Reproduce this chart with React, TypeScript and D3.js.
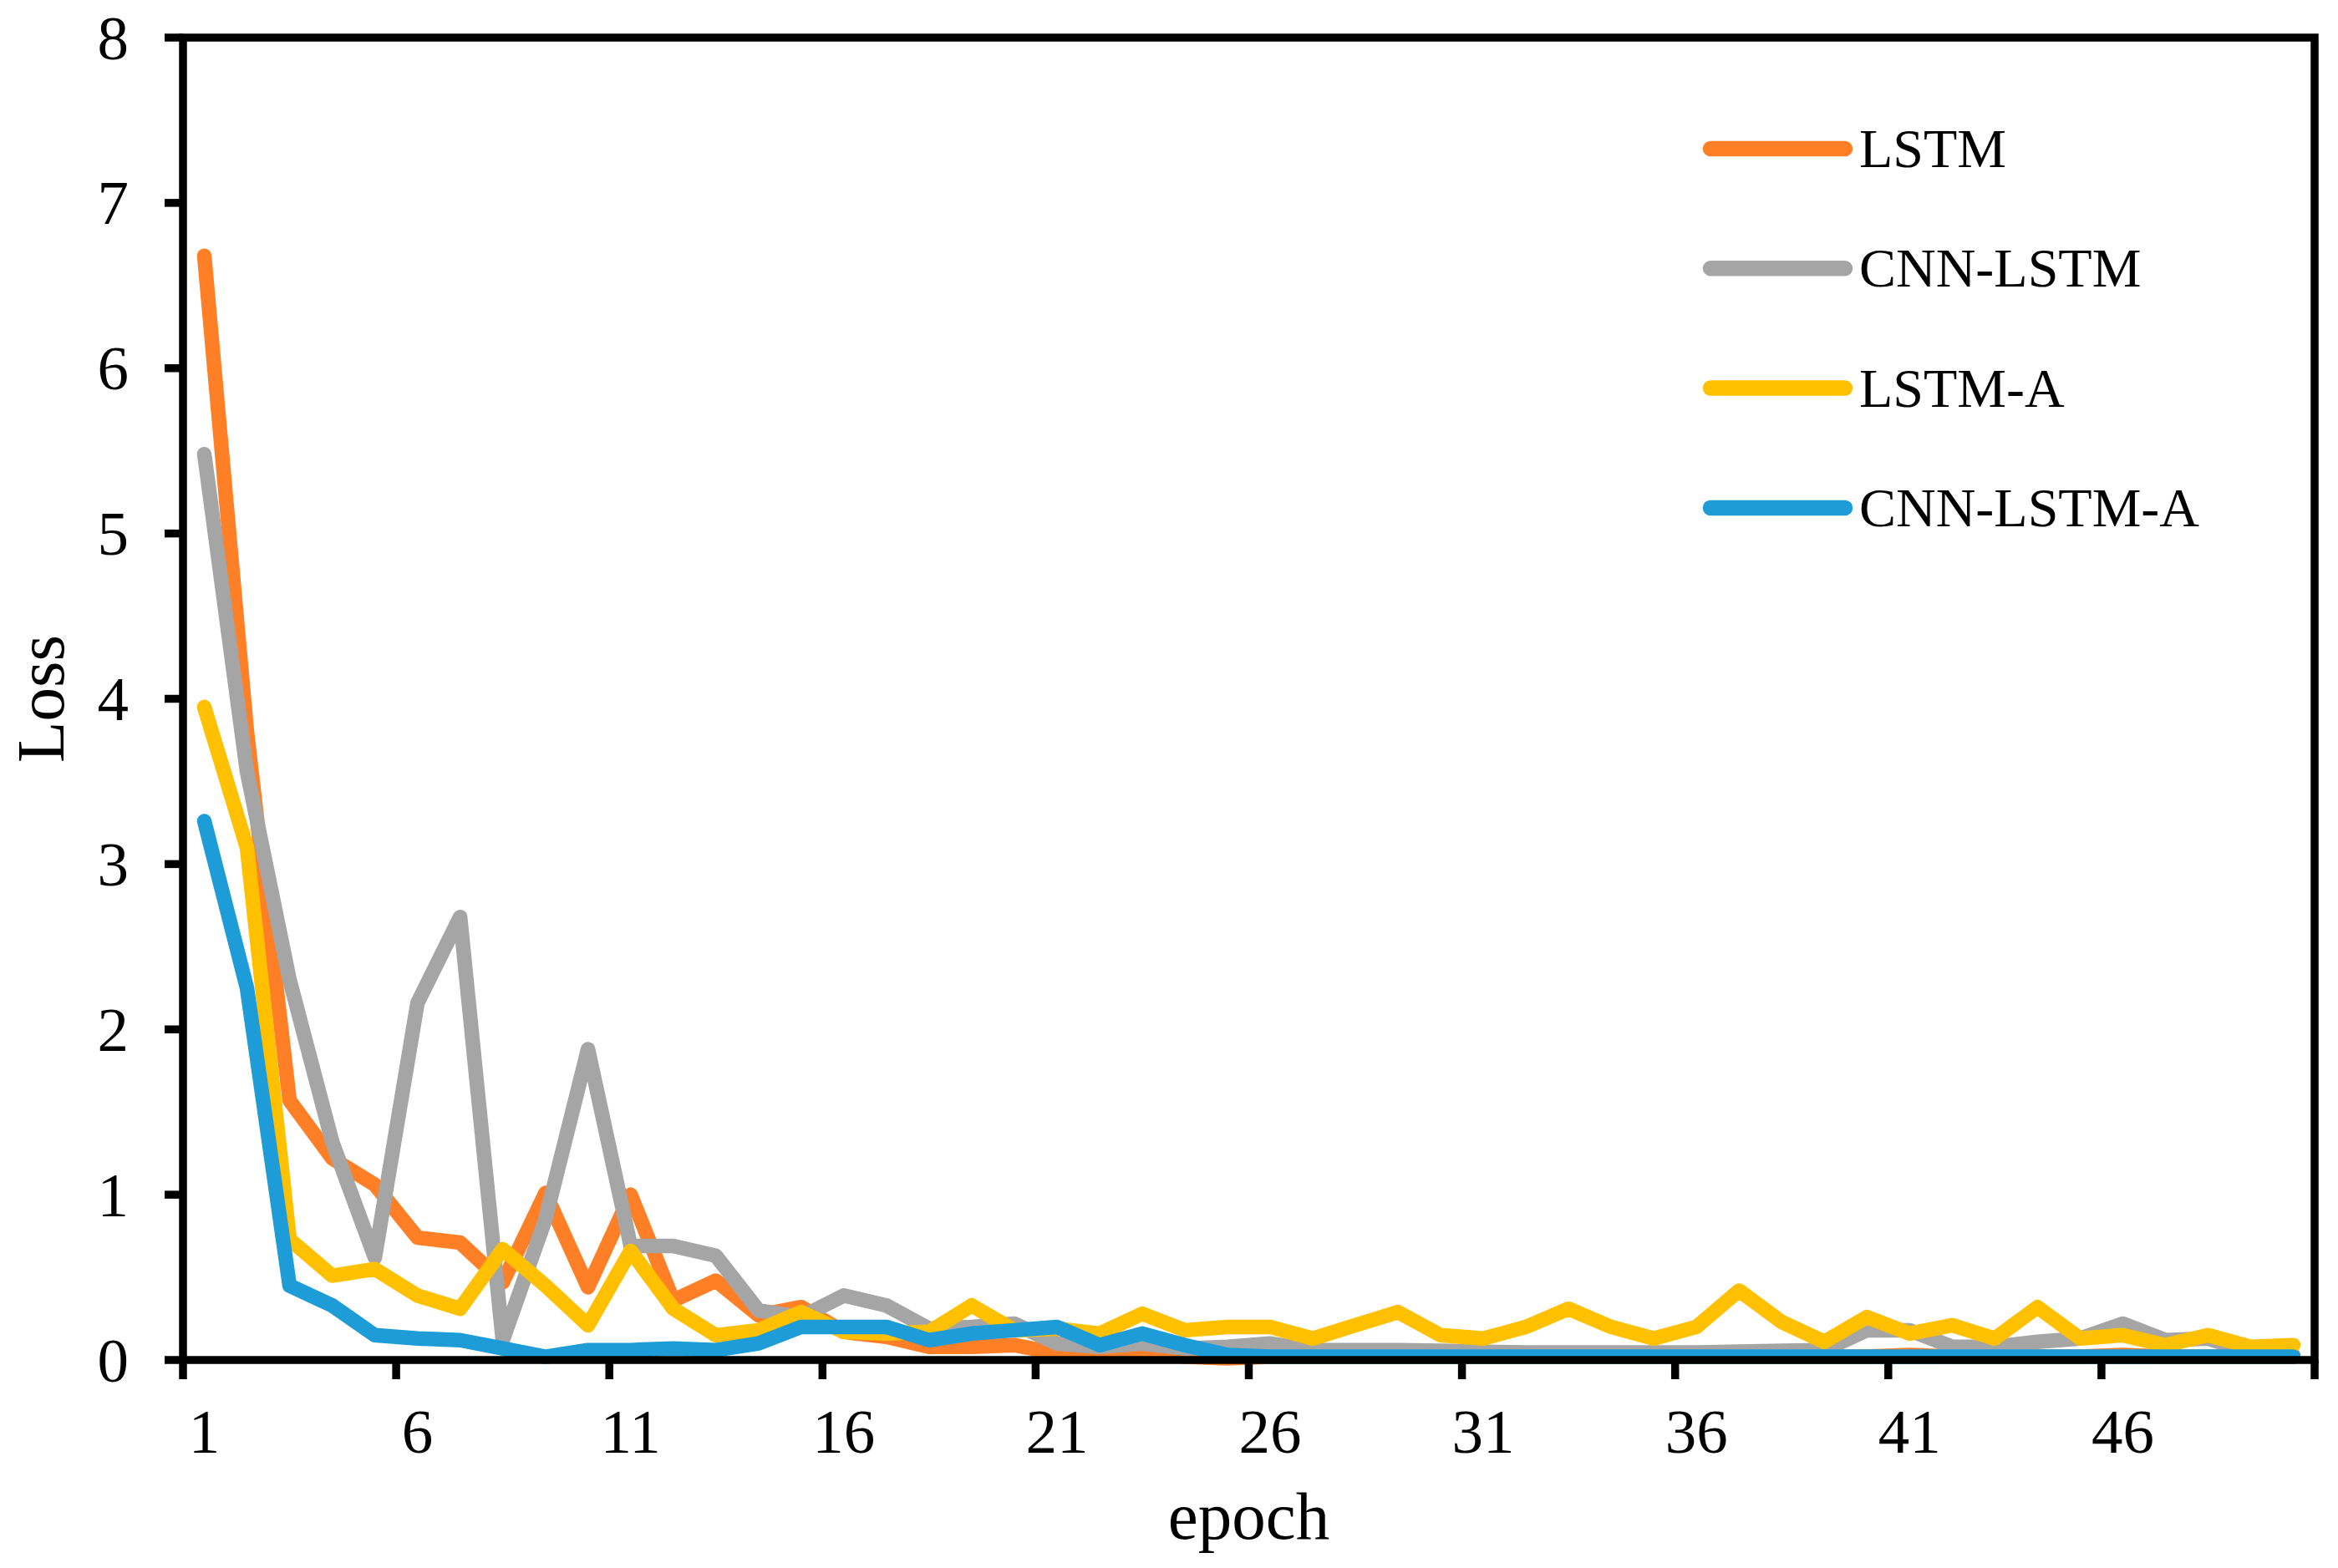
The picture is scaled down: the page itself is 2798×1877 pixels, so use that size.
import * as d3 from "d3";

const epochs = d3.range(1, 51);

const lstm = [
  6.68, 3.8, 1.57, 1.22, 1.06, 0.74, 0.71, 0.47, 1.01, 0.44,
  1.0, 0.36, 0.48, 0.27, 0.32, 0.17, 0.14, 0.08, 0.08, 0.09,
  0.04, 0.03, 0.06, 0.02, 0.01, 0.02, 0.02, 0.02, 0.02, 0.02,
  0.02, 0.02, 0.02, 0.02, 0.02, 0.02, 0.02, 0.02, 0.02, 0.02,
  0.03, 0.02, 0.02, 0.02, 0.02, 0.03, 0.02, 0.02, 0.02, 0.02,
];
const cnnLstm = [
  5.48, 3.56, 2.3, 1.32, 0.62, 2.16, 2.68, 0.12, 0.85, 1.88,
  0.69, 0.69, 0.63, 0.3, 0.26, 0.39, 0.33, 0.19, 0.2, 0.22,
  0.1, 0.08, 0.1, 0.07, 0.08, 0.1, 0.06, 0.06, 0.06, 0.055,
  0.05, 0.045, 0.045, 0.045, 0.045, 0.045, 0.05, 0.055, 0.06, 0.18,
  0.18, 0.08, 0.08, 0.11, 0.13, 0.22, 0.12, 0.13, 0.05, 0.03,
];
const lstmA = [
  3.95, 3.1, 0.73, 0.51, 0.55, 0.39, 0.31, 0.67, 0.45, 0.21,
  0.66, 0.31, 0.15, 0.18, 0.29, 0.17, 0.16, 0.17, 0.33, 0.18,
  0.19, 0.16, 0.28, 0.18, 0.2, 0.2, 0.13, 0.21, 0.29, 0.15,
  0.13, 0.2, 0.31, 0.2, 0.13, 0.2, 0.42, 0.23, 0.11, 0.26,
  0.16, 0.21, 0.13, 0.32, 0.13, 0.15, 0.09, 0.15, 0.08, 0.09,
];
const cnnLstmA = [
  3.26, 2.25, 0.45, 0.33, 0.15, 0.13, 0.12, 0.07, 0.02, 0.06,
  0.06, 0.07, 0.06, 0.1, 0.2, 0.2, 0.2, 0.12, 0.16, 0.18,
  0.2, 0.09, 0.16, 0.09, 0.03, 0.02, 0.02, 0.02, 0.02, 0.02,
  0.02, 0.02, 0.02, 0.02, 0.02, 0.02, 0.02, 0.02, 0.02, 0.02,
  0.02, 0.02, 0.02, 0.02, 0.02, 0.02, 0.02, 0.02, 0.02, 0.02,
];

const seriesNames = ["LSTM", "CNN-LSTM", "LSTM-A", "CNN-LSTM-A"];
const seriesValues = [lstm, cnnLstm, lstmA, cnnLstmA];
const seriesColors = ["#FF7F27", "#A5A5A5", "#FFC000", "#1E9CD8"];

const yTicks = [0, 1, 2, 3, 4, 5, 6, 7, 8];
const xTickLabels = [1, 6, 11, 16, 21, 26, 31, 36, 41, 46];

const W = 2798, H = 1877;
const font = "'Liberation Serif', 'Times New Roman', serif";

export default function App() {
  const left = 219, right = 2770, top = 45, bottom = 1628;

  const x = d3.scaleBand<number>().domain(epochs).range([left, right]);
  const y = d3.scaleLinear().domain([0, 8]).range([bottom, top]);
  const cx = (e: number) => (x(e) as number) + x.bandwidth() / 2;

  const line = d3
    .line<number>()
    .x((_, i) => cx(epochs[i]))
    .y((d) => y(d));

  // tick boundaries every 5 categories
  const xBoundaries = d3.range(0, 51, 5).map((k) => left + k * x.bandwidth());

  const axisW = 9.5;
  const lineW = 17.5;

  return (
    <svg
      width={W}
      height={H}
      style={{ position: "absolute", left: 0, top: 0, background: "#fff" }}
    >
      <rect x={0} y={0} width={W} height={H} fill="#fff" />

      {/* data lines */}
      {seriesValues.map((vals, s) => (
        <path
          key={seriesNames[s]}
          d={line(vals) || ""}
          fill="none"
          stroke={seriesColors[s]}
          strokeWidth={lineW}
          strokeLinejoin="round"
          strokeLinecap="round"
        />
      ))}

      {/* frame */}
      <rect
        x={left}
        y={top}
        width={right - left}
        height={bottom - top}
        fill="none"
        stroke="#000"
        strokeWidth={axisW}
      />

      {/* y ticks */}
      {yTicks.map((t) => (
        <g key={"y" + t}>
          <line x1={left - 22} x2={left} y1={y(t)} y2={y(t)} stroke="#000" strokeWidth={axisW} />
          <text
            x={154}
            y={y(t)}
            textAnchor="end"
            dominantBaseline="central"
            fontFamily={font}
            fontSize={75}
            fill="#000"
          >
            {t}
          </text>
        </g>
      ))}

      {/* x ticks */}
      {xBoundaries.map((bx, i) => (
        <line key={"xt" + i} x1={bx} x2={bx} y1={bottom} y2={bottom + 23} stroke="#000" strokeWidth={axisW} />
      ))}
      {xTickLabels.map((e) => (
        <text
          key={"xl" + e}
          x={cx(e)}
          y={1739}
          textAnchor="middle"
          fontFamily={font}
          fontSize={75}
          fill="#000"
        >
          {e}
        </text>
      ))}

      {/* axis titles */}
      <text x={(left + right) / 2} y={1842} textAnchor="middle" fontFamily={font} fontSize={81} fill="#000">
        epoch
      </text>
      <text
        transform={`translate(76, ${(top + bottom) / 2}) rotate(-90)`}
        textAnchor="middle"
        fontFamily={font}
        fontSize={81}
        fill="#000"
      >
        Loss
      </text>

      {/* legend */}
      {seriesNames.map((name, i) => {
        const ly = 178 + i * 143.3;
        return (
          <g key={"lg" + name}>
            <line
              x1={2047}
              x2={2208}
              y1={ly}
              y2={ly}
              stroke={seriesColors[i]}
              strokeWidth={lineW + 1}
              strokeLinecap="round"
            />
            <text x={2225} y={ly + 22} fontFamily={font} fontSize={66} fill="#000">
              {name}
            </text>
          </g>
        );
      })}
    </svg>
  );
}
